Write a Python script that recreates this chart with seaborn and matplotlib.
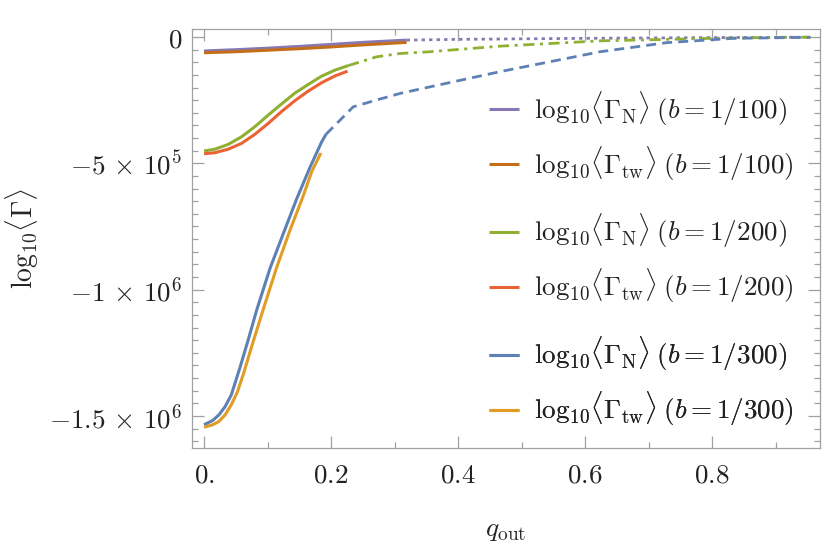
import matplotlib
matplotlib.use("Agg")
import matplotlib.pyplot as plt
import seaborn as sns
from matplotlib.ticker import MultipleLocator, FixedLocator, FixedFormatter

# values (x = q_out, y = log10 <Gamma>)
q_n100 = [0.0, 0.05, 0.10, 0.15, 0.20, 0.25, 0.319]
g_n100 = [-5.5e4, -5.0e4, -4.4e4, -3.7e4, -2.9e4, -2.1e4, -1.2e4]
q_n100_ext = [0.319, 0.40, 0.50, 0.60, 0.70, 0.80, 0.90, 0.955]
g_n100_ext = [-1.2e4, -9e3, -7e3, -5e3, -3.5e3, -2e3, -1e3, -5e2]

q_tw100 = [0.0, 0.05, 0.10, 0.15, 0.20, 0.25, 0.319]
g_tw100 = [-6.2e4, -5.8e4, -5.2e4, -4.6e4, -3.9e4, -3.1e4, -2.1e4]

q_n200 = [0.0, 0.017, 0.038, 0.059, 0.080, 0.101, 0.120, 0.143, 0.167, 0.185, 0.206, 0.227]
g_n200 = [-4.51e5, -4.44e5, -4.25e5, -3.95e5, -3.55e5, -3.09e5, -2.69e5, -2.22e5,
          -1.83e5, -1.55e5, -1.31e5, -1.13e5]
q_n200_ext = [0.227, 0.272, 0.309, 0.356, 0.466, 0.624, 0.80, 0.91, 0.955]
g_n200_ext = [-1.13e5, -7.8e4, -6.5e4, -5.8e4, -3.6e4, -1.5e4, -5e3, -1e3, -5e2]

q_tw200 = [0.0, 0.017, 0.038, 0.059, 0.080, 0.101, 0.122, 0.143, 0.164, 0.185, 0.206, 0.226]
g_tw200 = [-4.62e5, -4.58e5, -4.44e5, -4.21e5, -3.85e5, -3.42e5, -2.95e5, -2.52e5,
           -2.14e5, -1.81e5, -1.54e5, -1.35e5]

q_n300 = [0.0, 0.0136, 0.0234, 0.0332, 0.0429, 0.057, 0.070, 0.083, 0.104, 0.125,
          0.146, 0.167, 0.185, 0.192]
g_n300 = [-1.535e6, -1.518e6, -1.496e6, -1.463e6, -1.417e6, -1.305e6, -1.195e6, -1.080e6,
          -0.915e6, -0.777e6, -0.640e6, -0.515e6, -0.416e6, -0.385e6]
q_n300_ext = [0.192, 0.209, 0.235, 0.272, 0.309, 0.356, 0.466, 0.624, 0.729, 0.833, 0.955]
g_n300_ext = [-3.85e5, -3.42e5, -2.76e5, -2.49e5, -2.23e5, -1.97e5, -1.37e5, -5.8e4,
              -2.2e4, -5e3, -1e3]

q_tw300 = [0.0, 0.0136, 0.0234, 0.0332, 0.0429, 0.0527, 0.0625, 0.075, 0.093,
           0.114, 0.135, 0.156, 0.170, 0.184]
g_tw300 = [-1.545e6, -1.535e6, -1.522e6, -1.496e6, -1.456e6, -1.404e6, -1.330e6, -1.225e6,
           -1.080e6, -0.915e6, -0.767e6, -0.630e6, -0.530e6, -0.459e6]

x_ticks = [0.0, 0.2, 0.4, 0.6, 0.8]
x_ticklabels = ["$0.$", "$0.2$", "$0.4$", "$0.6$", "$0.8$"]
y_ticks = [0, -5e5, -1e6, -1.5e6]
y_ticklabels = ["$0$", r"$-5\,\times\,10^{5}$", r"$-1\,\times\,10^{6}$",
                r"$-1.5\,\times\,10^{6}$"]

c_purple = "#8778B3"
c_brown = "#C56E1A"
c_green = "#8FB032"
c_red = "#EB6235"
c_blue = "#5E81B5"
c_orange = "#E19C24"

sns.set_style("ticks")
plt.rcParams["mathtext.fontset"] = "cm"
plt.rcParams["font.family"] = ["DejaVu Serif"]

fig = plt.figure(figsize=(8.25, 5.44), dpi=100)
ax = fig.add_axes([0.2327, 0.1765, 0.7612, 0.7702])

lw = 2.2
# continuations first (drawn beneath)
sns.lineplot(x=q_n100_ext, y=g_n100_ext, ax=ax, color=c_purple, lw=2.0,
             linestyle=(0, (1.2, 1.5)))
sns.lineplot(x=q_n200_ext, y=g_n200_ext, ax=ax, color=c_green, lw=2.0,
             linestyle=(0, (4.0, 2.0, 1.1, 2.0)))
sns.lineplot(x=q_n300_ext, y=g_n300_ext, ax=ax, color=c_blue, lw=2.0,
             linestyle=(0, (3.6, 2.2)))

curves = [
    (q_n100, g_n100, c_purple, r"$\mathrm{log}_{10}\langle\Gamma_{\rm N}\rangle\;(b=1/100)$"),
    (q_tw100, g_tw100, c_brown, r"$\mathrm{log}_{10}\langle\Gamma_{\rm tw}\rangle\;(b=1/100)$"),
    (q_n200, g_n200, c_green, r"$\mathrm{log}_{10}\langle\Gamma_{\rm N}\rangle\;(b=1/200)$"),
    (q_tw200, g_tw200, c_red, r"$\mathrm{log}_{10}\langle\Gamma_{\rm tw}\rangle\;(b=1/200)$"),
    (q_n300, g_n300, c_blue, r"$\mathrm{log}_{10}\langle\Gamma_{\rm N}\rangle\;(b=1/300)$"),
    (q_tw300, g_tw300, c_orange, r"$\mathrm{log}_{10}\langle\Gamma_{\rm tw}\rangle\;(b=1/300)$"),
]
handles = []
for qx, gy, col, lab in curves:
    sns.lineplot(x=qx, y=gy, ax=ax, color=col, lw=lw)
    ax.lines[-1].set_solid_capstyle("butt")
    ax.lines[-1].set_solid_joinstyle("round")
    handles.append((ax.lines[-1], lab))

if ax.get_legend() is not None:
    ax.get_legend().remove()

ax.set_xlim(-0.019, 0.97)
ax.set_ylim(-1.627e6, 3.2e4)

frame_col = "#a0a0a0"
for s in ax.spines.values():
    s.set_visible(True)
    s.set_color(frame_col)
    s.set_linewidth(0.9)

ax.xaxis.set_major_locator(FixedLocator(x_ticks))
ax.xaxis.set_major_formatter(FixedFormatter(x_ticklabels))
ax.xaxis.set_minor_locator(MultipleLocator(0.1))
ax.yaxis.set_major_locator(FixedLocator(y_ticks))
ax.yaxis.set_major_formatter(FixedFormatter(y_ticklabels))
ax.yaxis.set_minor_locator(MultipleLocator(5e4))
ax.tick_params(which="both", direction="in", top=True, right=True,
               color=frame_col, width=0.9, labelsize=19.5, labelcolor="#222222")
ax.tick_params(which="major", length=8.5)
ax.tick_params(which="minor", length=4.5)
ax.tick_params(axis="x", pad=10)
ax.tick_params(axis="y", pad=7)

ax.set_xlabel(r"$q_{\rm out}$", fontsize=20)
ax.set_ylabel(r"$\mathrm{log}_{10}\langle\Gamma\rangle$", fontsize=20)
ax.xaxis.set_label_coords(0.5, -0.162)
ax.yaxis.set_label_coords(-0.24, 0.5)

groups = [(handles[0:2], 0.7445), (handles[2:4], 0.452), (handles[4:6], 0.159)]
for hs, yc in groups:
    leg = ax.legend([h for h, _ in hs], [l for _, l in hs], loc="center left",
                    bbox_to_anchor=(0.473, yc), frameon=False, fontsize=19.5,
                    borderpad=0, borderaxespad=0, handlelength=1.1,
                    handletextpad=0.55, labelspacing=0.6)
    for t in leg.get_texts():
        t.set_color("#222222")
    ax.add_artist(leg)

fig.savefig("out.png", dpi=100)
